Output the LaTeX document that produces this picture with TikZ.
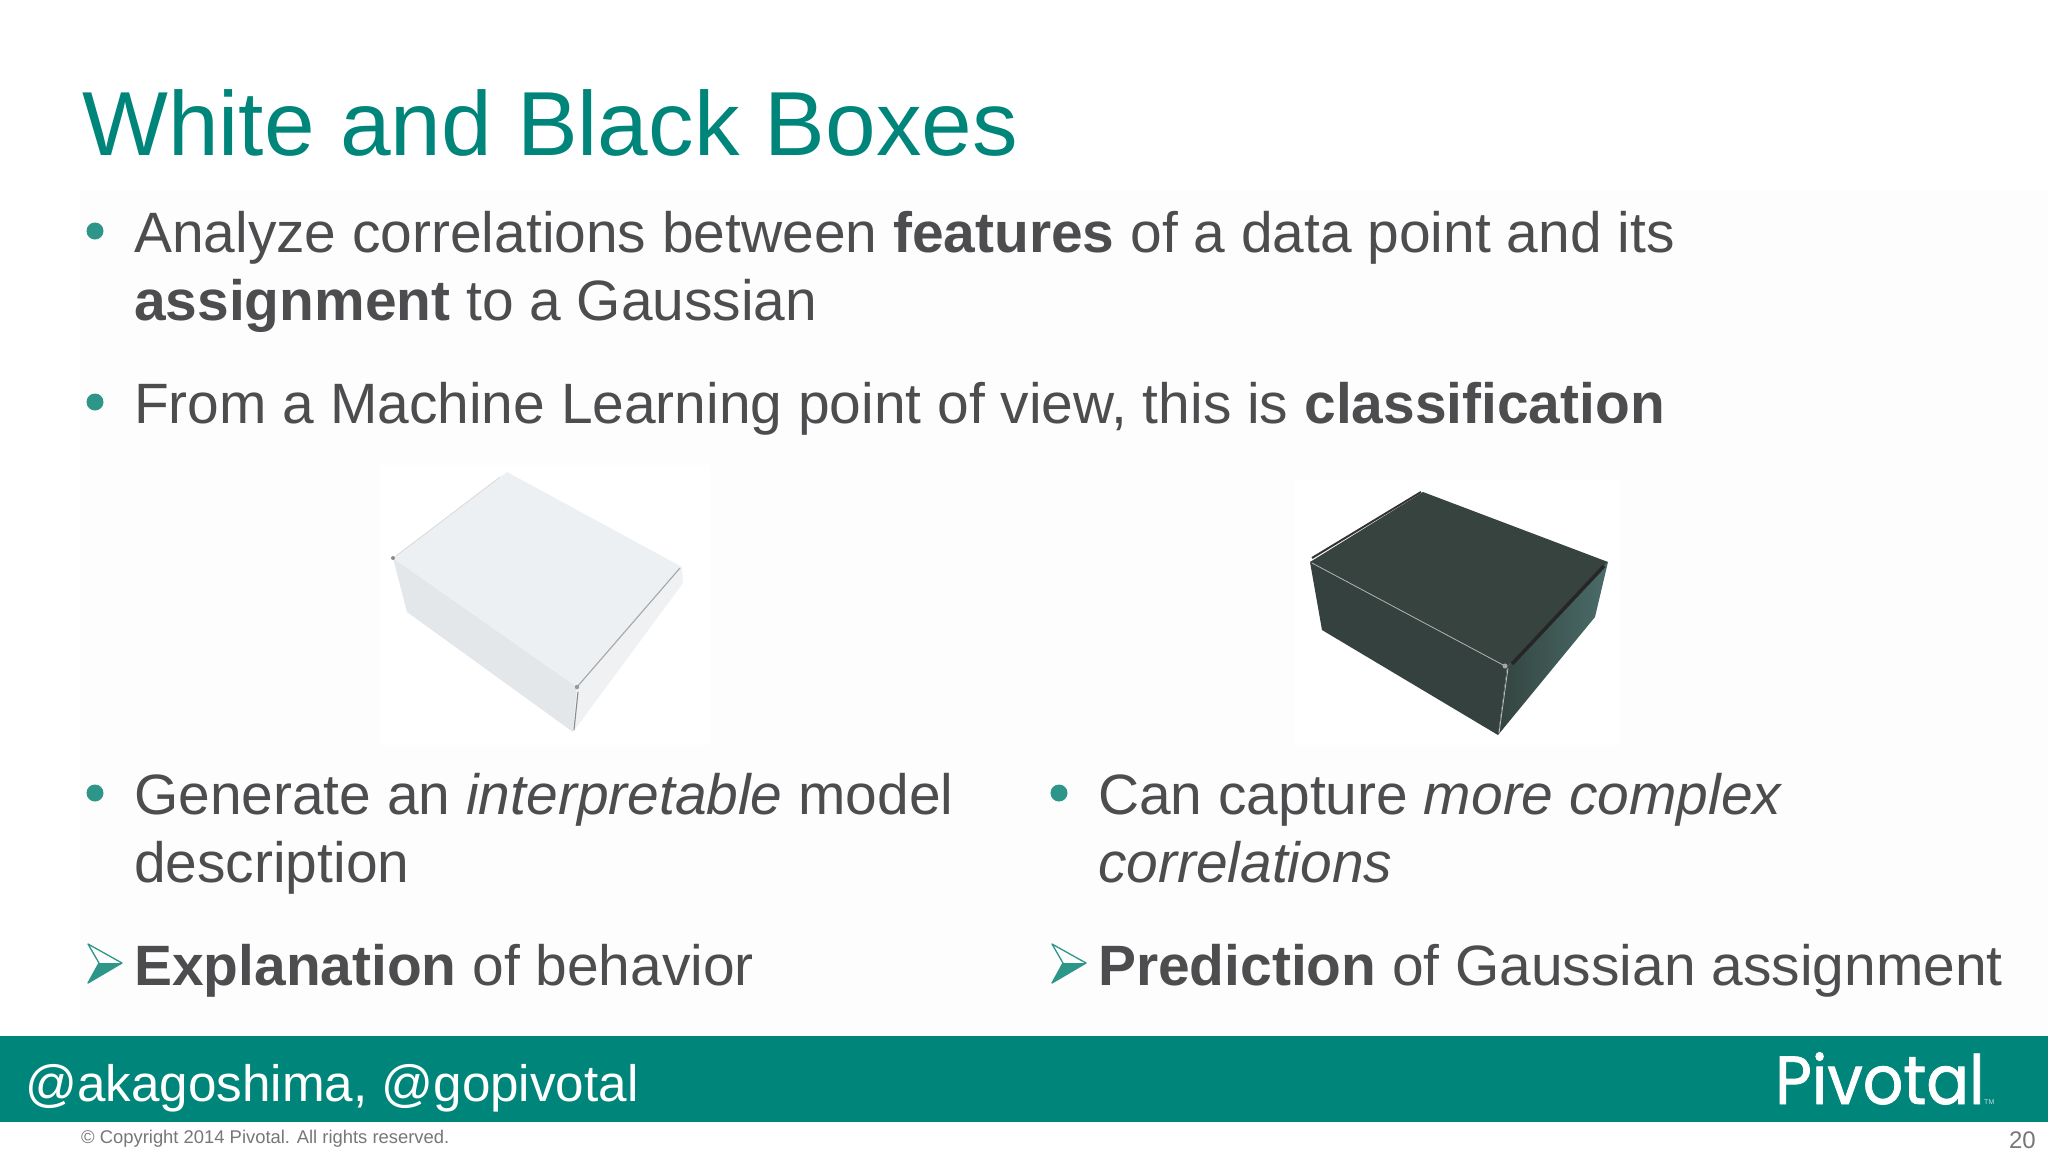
\documentclass[tikz,border=0pt]{standalone}
\usepackage{fontspec}
\setmainfont{Liberation Sans}
\newfontfamily\logofont[FakeBold=1.2]{Poppins}
\definecolor{teal1}{HTML}{00857A}
\definecolor{bull}{HTML}{2E9688}
\definecolor{body}{HTML}{4D4D4F}
\definecolor{grayt}{HTML}{77777A}
\definecolor{bktop}{HTML}{36433F}
\definecolor{bkleft}{HTML}{34413F}
\definecolor{bkright}{HTML}{33443F}
\definecolor{bkrightb}{HTML}{4A6C69}
\definecolor{wtop}{HTML}{ECF0F2}
\definecolor{wleft}{HTML}{E4E7EA}
\definecolor{wright}{HTML}{EFF1F3}
\definecolor{bgfaint}{HTML}{FDFDFD}
\tikzset{
  bodytext/.style={anchor=base west,inner sep=0pt,text=body,font=\fontsize{56.9}{57}\selectfont},
  dot/.style={circle,fill=bull,minimum size=17pt,inner sep=0pt},
}
\newcommand{\arrowbul}[2]{%
  \fill[bull] (#1+99,#2+19)--(#1+122,#2+19)--(#1+88,#2+39)--cycle;
  \draw[bull,line width=1.3pt,line join=round] (#1+99,#2+19)--(#1+88,#2)--(#1+122,#2+19)--(#1+88,#2+39)--cycle;
}
\begin{document}
\begin{tikzpicture}[x=1pt,y=-1pt]
\useasboundingbox (0,0) rectangle (2048,1152);
\fill[white] (0,0) rectangle (2048,1152);
\fill[bgfaint] (80,190) rectangle (2048,1037);
% title
\node[anchor=base west,inner sep=0pt,text=teal1,font=\fontsize{91}{91}\selectfont] (title) at (82,155) {White and Black Boxes};
% top bullets
\node[dot] (b1) at (95,231) {};
\node[bodytext] (t1) at (134,252) {Analyze correlations between \textbf{features} of a data point and its};
\node[bodytext] (t1b) at (134,320) {\textbf{assignment} to a Gaussian};
\node[dot] (b2) at (95,402) {};
\node[bodytext] (t2) at (134,423) {From a Machine Learning point of view, this is \textbf{classification}};
% white box
\fill[white] (380,465) rectangle (710,745);
\fill[wleft] (393,558)--(577,687)--(573,732)--(407,612)--cycle;
\fill[wright] (577,687)--(682,567)--(683,583)--(573,732)--cycle;
\fill[wtop] (507,472)--(393,558)--(577,687)--(682,567)--cycle;
\draw[black!15,line width=0.8pt] (396,556)--(500,477);
\draw[black!35,line width=1.1pt] (577,687)--(680,568);
\draw[black!45,line width=1.1pt] (578,692)--(574,730);
\fill[black!45] (393,558) circle (2pt);
\fill[black!40] (577,687) circle (2.2pt);
% black box
\fill[white] (1295,480) rectangle (1620,745);
\fill[bkleft] (1310,562)--(1507,667)--(1498,735)--(1322,630)--cycle;
\shade[left color=bkright,right color=bkrightb] (1507,667)--(1608,562)--(1595,617)--(1498,735)--cycle;
\fill[bktop] (1423,492)--(1310,562)--(1507,667)--(1608,562)--cycle;
\draw[black!80,line width=2pt] (1421,492)--(1312,558);
\draw[black!85,line width=3.5pt] (1512,664)--(1604,566);
\draw[black!30,line width=0.8pt] (1312,563)--(1505,666);
\draw[black!25,line width=0.8pt] (1508,668)--(1499,733);
\fill[black!35] (1505,666) circle (2.5pt);
% lower columns
\node[dot] (b3) at (95,793) {};
\node[bodytext] (t3) at (134,814) {Generate an \textit{interpretable} model};
\node[bodytext] (t3b) at (134,882) {description};
\arrowbul{0}{944}
\node[bodytext] (t4) at (134,985) {\textbf{Explanation} of behavior};
\node[dot] (b4) at (1059,793) {};
\node[bodytext] (t5) at (1098,814) {Can capture \textit{more complex}};
\node[bodytext] (t5b) at (1098,882) {\textit{correlations}};
\arrowbul{964}{944}
\node[bodytext] (t6) at (1098,985) {\textbf{Prediction} of Gaussian assignment};
% footer
\fill[teal1] (0,1036) rectangle (2048,1122);
\node[anchor=base west,inner sep=0pt,text=white,font=\fontsize{51.2}{52}\selectfont] (handle) at (25,1101) {@akagoshima, @gopivotal};
\node[anchor=base west,inner sep=0pt,text=white,font=\logofont\fontsize{68}{68}\selectfont,xscale=0.93] (logo) at (1775,1104) {Pivotal};
\node[anchor=base west,inner sep=0pt,text=white!75!teal1,font=\fontsize{7}{7}\selectfont] (tm) at (1984,1104) {TM};
\node[anchor=base west,inner sep=0pt,text=grayt,font=\fontsize{18.4}{19}\selectfont] (copy) at (81,1143) {© Copyright 2014 Pivotal. All rights reserved.};
\node[anchor=base east,inner sep=0pt,text=grayt,font=\fontsize{24}{24}\selectfont] (page) at (2036,1148) {20};
\end{tikzpicture}
\end{document}
